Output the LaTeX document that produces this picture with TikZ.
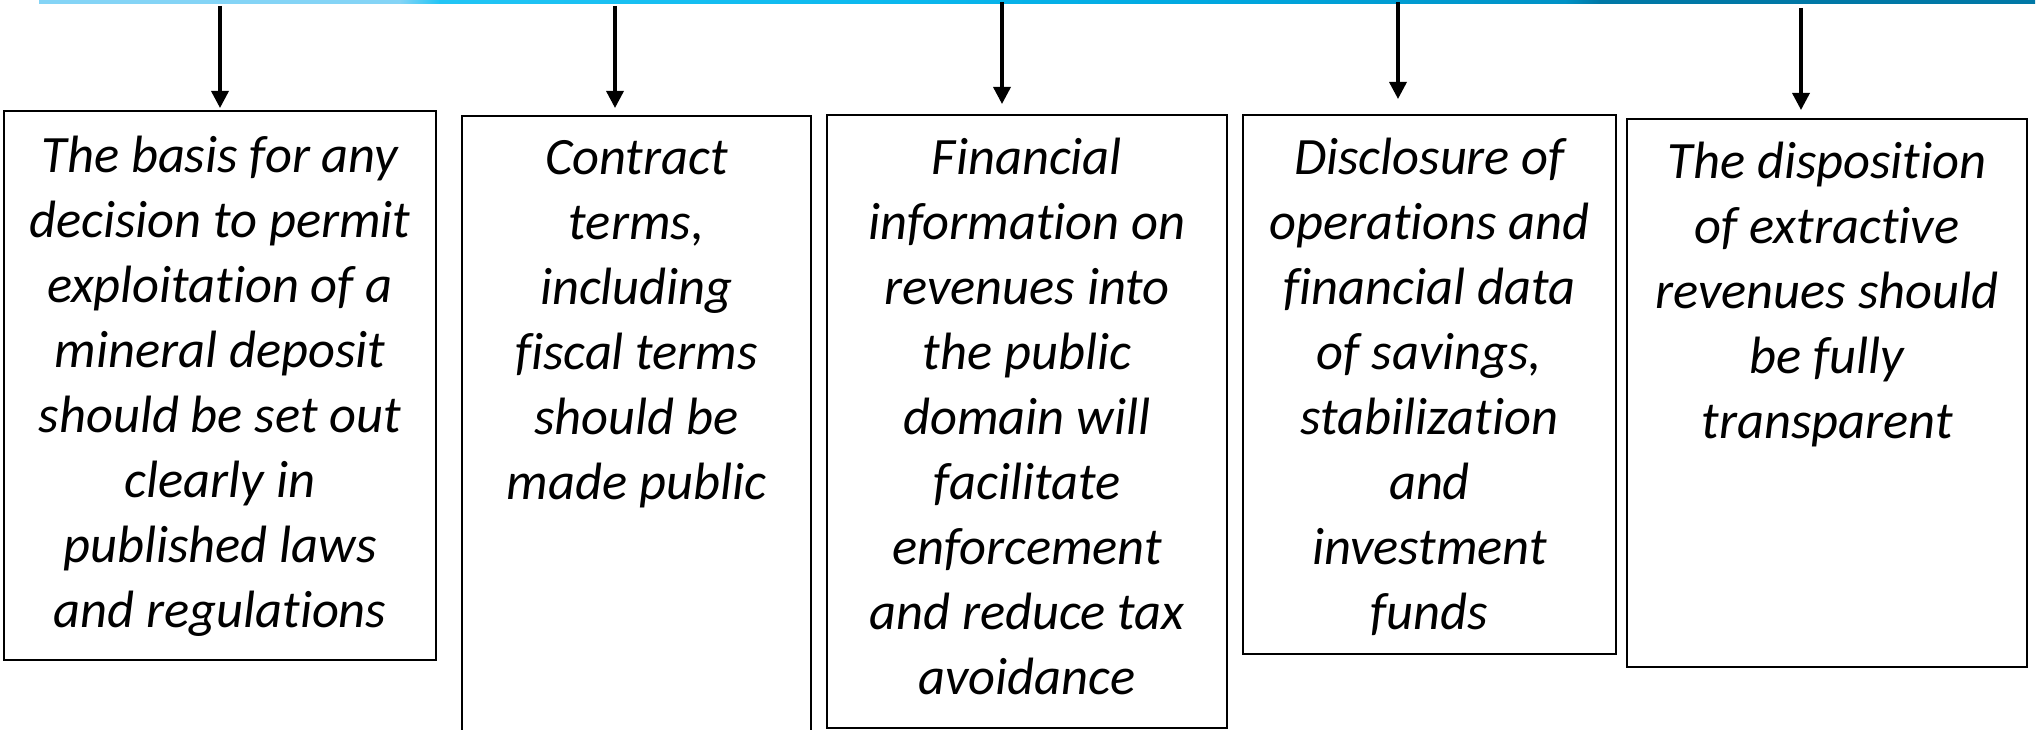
\documentclass[tikz,border=0pt]{standalone}
\usepackage{fontspec}
\setmainfont{Carlito}[Ligatures=NoCommon]
\usetikzlibrary{arrows.meta,calc}

\definecolor{barA}{HTML}{84D4F6}
\definecolor{barB}{HTML}{22C5F5}
\definecolor{barC}{HTML}{0BB8EE}
\definecolor{barD}{HTML}{00A8E0}
\definecolor{barE}{HTML}{0092C6}
\definecolor{barF}{HTML}{0078A6}

\tikzset{
  infobox/.style={draw=black, line width=2pt, fill=none, inner sep=0pt, outer sep=0pt,
                  anchor=north west},
  infotext/.style={anchor=north, align=center, inner sep=0pt, outer sep=0pt,
                   font=\fontsize{52.5}{65}\selectfont\itshape},
  feed/.style={line width=3.4pt, -{Triangle[width=17pt,length=17pt]}},
  barseg/.style={draw=none}
}

\begin{document}
\begin{tikzpicture}[x=1pt,y=-1pt]
\useasboundingbox (0,0) rectangle (2042,730);
\clip (0,0) rectangle (2042,730);

% top bar, shaded from light sky blue to deep blue
\shade[barseg, left color=barA, right color=barA] (39,0) rectangle (400,3.5);
\shade[barseg, left color=barA, right color=barB] (399.5,0) rectangle (440,3.5);
\shade[barseg, left color=barB, right color=barC] (439.5,0) rectangle (900,3.5);
\shade[barseg, left color=barC, right color=barD] (899.5,0) rectangle (1200,3.5);
\shade[barseg, left color=barD, right color=barE] (1199.5,0) rectangle (1565,3.5);
\shade[barseg, left color=barE, right color=barF] (1564.5,0) rectangle (1600,3.5);
\shade[barseg, left color=barF, right color=barF] (1599.5,0) rectangle (2035,3.5);

% boxes
\node[infobox, minimum width=432pt, minimum height=549pt] (b1) at (4,111) {};
\node[infobox, minimum width=349pt, minimum height=640pt] (b2) at (462,116) {};
\node[infobox, minimum width=400pt, minimum height=613pt] (b3) at (827,115) {};
\node[infobox, minimum width=373pt, minimum height=539pt] (b4) at (1243,115) {};
\node[infobox, minimum width=400pt, minimum height=548pt] (b5) at (1627,119) {};

% texts
\node[infotext] (t1) at ($(b1.north)+(0,15.5)$) {\strut The basis for any\\decision to permit\\exploitation of a\\mineral deposit\\should be set out\\clearly in\\published laws\\and regulations};
\node[infotext] (t2) at ($(b2.north)+(0,12.5)$) {\strut Contract\\terms,\\including\\fiscal terms\\should be\\made public};
\node[infotext] (t3) at ($(b3.north)+(0,13.5)$) {\strut Financial\\information on\\revenues into\\the public\\domain will\\facilitate\\enforcement\\and reduce tax\\avoidance};
\node[infotext] (t4) at ($(b4.north)+(0,13.5)$) {\strut Disclosure of\\operations and\\financial data\\of savings,\\stabilization\\and\\investment\\funds};
\node[infotext] (t5) at ($(b5.north)+(0,13.5)$) {\strut The disposition\\of extractive\\revenues should\\be fully\\transparent};

% arrow origins under the bar
\coordinate (a1) at (220,6);
\coordinate (a2) at (615,6);
\coordinate (a3) at (1002,2);
\coordinate (a4) at (1398,2);
\coordinate (a5) at (1801,8);

% arrows
\draw[feed, shorten >=3pt]  (a1) -- (a1 |- b1.north);
\draw[feed, shorten >=8pt]  (a2) -- (a2 |- b2.north);
\draw[feed, shorten >=11pt] (a3) -- (a3 |- b3.north);
\draw[feed, shorten >=16pt] (a4) -- (a4 |- b4.north);
\draw[feed, shorten >=9pt]  (a5) -- (a5 |- b5.north);
\end{tikzpicture}
\end{document}
